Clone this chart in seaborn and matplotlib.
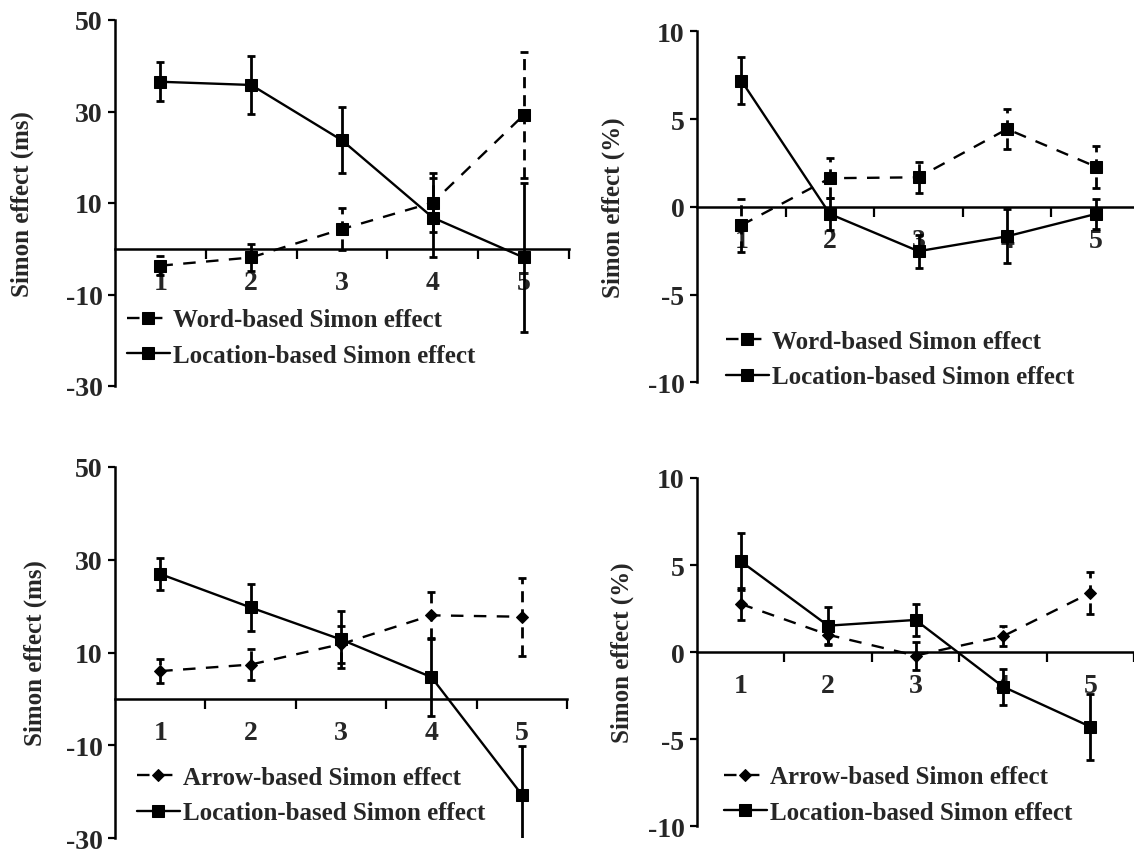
import numpy as np
import pandas as pd
import matplotlib
matplotlib.use("Agg")
import matplotlib.pyplot as plt
import seaborn as sns

sessions = [1, 2, 3, 4, 5]

# top left: RT (ms), word vs location
word_rt = [-3.7, -1.9, 4.3, 10.1, 29.2]
word_rt_err = [2.1, 3.0, 4.5, 6.5, 13.8]
loc_rt_a = [36.5, 35.8, 23.7, 6.8, -1.9]
loc_rt_a_err = [4.3, 6.4, 7.2, 8.7, 16.3]

# top right: errors (%), word vs location
word_pe = [-1.05, 1.63, 1.68, 4.43, 2.29]
word_pe_err = [1.5, 1.13, 0.9, 1.14, 1.2]
loc_pe_a = [7.19, -0.41, -2.53, -1.68, -0.41]
loc_pe_a_err = [1.35, 0.9, 0.95, 1.55, 0.88]

# bottom left: RT (ms), arrow vs location
arrow_rt = [6.0, 7.4, 11.8, 18.0, 17.7]
arrow_rt_err = [2.6, 3.4, 4.0, 5.0, 8.4]
loc_rt_b = [26.9, 19.7, 12.8, 4.7, -20.6]
loc_rt_b_err = [3.5, 5.0, 6.2, 8.4, 10.4]

# bottom right: errors (%), arrow vs location
arrow_pe = [2.77, 1.0, -0.2, 0.91, 3.4]
arrow_pe_err = [0.9, 0.6, 0.8, 0.58, 1.2]
loc_pe_b = [5.22, 1.52, 1.85, -1.98, -4.28]
loc_pe_b_err = [1.65, 1.05, 0.93, 1.03, 1.9]

sns.set_theme(style="white")
plt.rcParams['font.family'] = ['Liberation Serif', 'DejaVu Serif']
plt.rcParams['font.weight'] = 'bold'
plt.rcParams['axes.labelweight'] = 'bold'

fig = plt.figure(figsize=(11.34, 8.54), dpi=100)
W, H = 1134, 854
FS = 18
TICK_FS = 20


def px_axes(x0, x1, ytop, ybot):
    return fig.add_axes([x0 / W, 1 - ybot / H, (x1 - x0) / W, (ybot - ytop) / H])


def draw_series(ax, y, err, marker, dashed, label, msize):
    df = pd.DataFrame({"session": sessions, "effect": y})
    ls = (0, (5.3, 4.4)) if dashed else '-'
    eb = ax.errorbar(sessions, y, yerr=err, fmt='none', ecolor='black',
                     elinewidth=2.0, capsize=2.6, capthick=2.0, zorder=2)
    if dashed:
        eb[2][0].set_linestyle((0, (4, 2.5)))
    sns.lineplot(data=df, x="session", y="effect", ax=ax, color='black',
                 linestyle=ls, linewidth=1.7, marker=marker, markersize=msize,
                 markeredgecolor='black', markerfacecolor='black',
                 label=label, zorder=3)


def style_axes(ax, ylim, yticks, ylabel, label_x, legend_xy):
    ax.spines['top'].set_visible(False)
    ax.spines['right'].set_visible(False)
    ax.spines['bottom'].set_position(('data', 0))
    for s in ('left', 'bottom'):
        ax.spines[s].set_color('black')
        ax.spines[s].set_linewidth(1.8)
    ax.set_xlim(0.5, 5.5)
    ax.set_ylim(*ylim)
    ax.set_yticks(yticks)
    ax.set_yticklabels([str(t) for t in yticks])
    ax.set_xticks(sessions)
    ax.set_xticklabels([str(s) for s in sessions])
    ax.set_xticks([1.5, 2.5, 3.5, 4.5, 5.5], minor=True)
    ax.tick_params(axis='x', which='major', length=0, pad=15, labelsize=TICK_FS)
    ax.tick_params(axis='x', which='minor', length=7, width=1.6,
                   direction='out', bottom=True, color='black')
    ax.tick_params(axis='y', which='major', length=5, width=1.6,
                   direction='out', left=True, color='black', pad=4,
                   labelsize=TICK_FS)
    for t in ax.get_xticklabels() + ax.get_yticklabels():
        t.set_fontweight('bold')
    ax.set_xlabel('')
    ax.set_ylabel(ylabel, fontsize=FS, fontweight='bold')
    ax.yaxis.set_label_coords(label_x, 0.5)
    ax.legend(loc='center left', bbox_to_anchor=legend_xy,
              bbox_transform=fig.transFigure, frameon=False,
              prop={'family': 'Liberation Serif', 'weight': 'bold', 'size': FS},
              handlelength=1.7, handletextpad=0.15, labelspacing=0.5,
              borderpad=0, borderaxespad=0)


# top left
ax1 = px_axes(115, 569, 21, 387)
draw_series(ax1, word_rt, word_rt_err, 's', True, 'Word-based Simon effect', 8)
draw_series(ax1, loc_rt_a, loc_rt_a_err, 's', False, 'Location-based Simon effect', 8)
style_axes(ax1, (-30, 50), [50, 30, 10, -10, -30], 'Simon effect (ms)', -0.178,
           (127 / W, 1 - 338.5 / H))

# top right
ax2 = px_axes(697, 1140, 32.3, 383.3)
draw_series(ax2, word_pe, word_pe_err, 's', True, 'Word-based Simon effect', 8)
draw_series(ax2, loc_pe_a, loc_pe_a_err, 's', False, 'Location-based Simon effect', 8)
style_axes(ax2, (-10, 10), [10, 5, 0, -5, -10], 'Simon effect (%)', -0.163,
           (726 / W, 1 - 360 / H))

# bottom left
ax3 = px_axes(115, 567, 467.7, 839.3)
draw_series(ax3, arrow_rt, arrow_rt_err, 'D', True, 'Arrow-based Simon effect', 6)
draw_series(ax3, loc_rt_b, loc_rt_b_err, 's', False, 'Location-based Simon effect', 8)
style_axes(ax3, (-30, 50), [50, 30, 10, -10, -30], 'Simon effect (ms)', -0.150,
           (137 / W, 1 - 796 / H))

# bottom right
ax4 = px_axes(697, 1134, 479, 827.3)
draw_series(ax4, arrow_pe, arrow_pe_err, 'D', True, 'Arrow-based Simon effect', 6)
draw_series(ax4, loc_pe_b, loc_pe_b_err, 's', False, 'Location-based Simon effect', 8)
style_axes(ax4, (-10, 10), [10, 5, 0, -5, -10], 'Simon effect (%)', -0.144,
           (724 / W, 1 - 795.5 / H))

fig.savefig("out.png", dpi=100, facecolor='white')
